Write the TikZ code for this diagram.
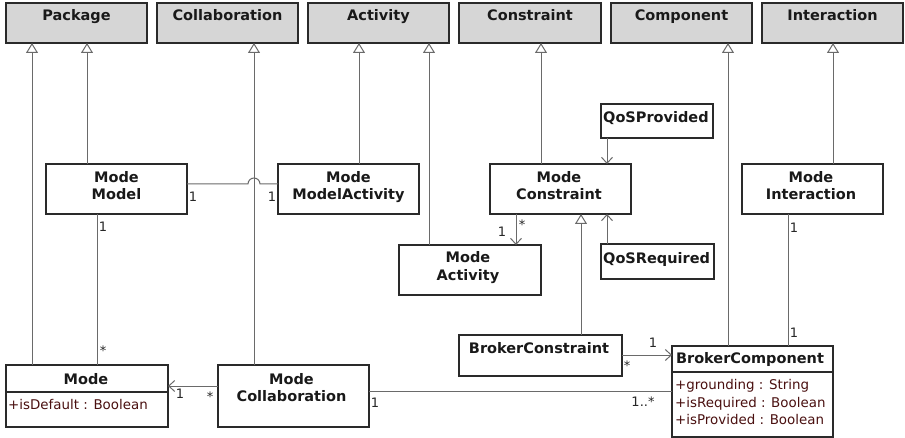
\documentclass[tikz,border=0pt]{standalone}
\usepackage{fontspec}
\setmainfont{DejaVu Sans}
\usetikzlibrary{arrows.meta}

\definecolor{linegray}{HTML}{6A6A6A}
\definecolor{framecol}{HTML}{2A2A2A}
\definecolor{pkgfill}{HTML}{D6D6D6}
\definecolor{attrcol}{HTML}{4A1010}

\tikzset{
  cls/.style={draw=framecol, line width=1.2pt, fill=white, inner sep=0pt, outer sep=0pt},
  ext/.style={cls, fill=pkgfill},
  ttl/.style={anchor=base, inner sep=0pt, font=\fontsize{14.5}{17}\selectfont\bfseries, text=black!90},
  ttlw/.style={ttl, anchor=base west},
  att/.style={anchor=base west, inner sep=0pt, text=attrcol, font=\fontsize{13.4}{16}\selectfont},
  mult/.style={anchor=center, inner sep=0pt, font=\fontsize{13}{15}\selectfont, text=black!85},
  gen/.style={draw=linegray, line width=1pt, -{Triangle[width=12pt, length=10pt, fill=white]}},
  nav/.style={draw=linegray, line width=1pt, -{Straight Barb[length=6pt, width=11pt]}},
  assoc/.style={draw=linegray, line width=1pt},
  sep/.style={draw=framecol, line width=1.2pt},
}

% class box from its corners (x1,y1)-(x2,y2), y growing downwards
\newcommand\klass[6]{\node[#6, minimum width={#4-#2}, minimum height={#5-#3}] (#1) at ({(#2+#4)/2},{(#3+#5)/2}) {};}

\begin{document}
\begin{tikzpicture}[x=1pt, y=-1pt]
\useasboundingbox (0,0) rectangle (905,438);

% external metaclasses
\klass{pkg}{6}{3}{147}{43}{ext}
\klass{col}{157}{3}{298}{43}{ext}
\klass{act}{308}{3}{449}{43}{ext}
\klass{con}{459}{3}{601}{43}{ext}
\klass{cmp}{611}{3}{752}{43}{ext}
\klass{int}{762}{3}{903}{43}{ext}
\node[ttl] (pkg-t) at (76.5,21) {Package};
\node[ttl] (col-t) at (227.5,21) {Collaboration};
\node[ttl] (act-t) at (378.5,21) {Activity};
\node[ttl] (con-t) at (530,21) {Constraint};
\node[ttl] (cmp-t) at (681.5,21) {Component};
\node[ttl] (int-t) at (832.5,21) {Interaction};

% mode classes
\klass{mm}{46}{164}{187}{214}{cls}
\klass{mma}{278}{164}{419}{214}{cls}
\klass{mc}{490}{164}{631}{214}{cls}
\klass{mi}{742}{164}{883}{214}{cls}
\klass{qp}{601}{104}{713}{138}{cls}
\klass{qr}{601}{244}{714}{279}{cls}
\klass{ma}{399}{245}{541}{295}{cls}
\klass{bcs}{459}{335}{622}{376}{cls}
\klass{bcp}{672}{346}{833}{437}{cls}
\klass{mode}{6}{365}{168}{427}{cls}
\klass{mcol}{218}{365}{369}{427}{cls}

\draw[sep] (mode.west |- 0,392) -- (mode.east |- 0,392);
\draw[sep] (bcp.west |- 0,372) -- (bcp.east |- 0,372);

\node[ttl] (mm-t1) at (116.5,182.5) {Mode};
\node[ttl] (mm-t2) at (116.5,199.5) {Model};
\node[ttl] (mma-t1) at (348.5,182.5) {Mode};
\node[ttl] (mma-t2) at (348.5,199.5) {ModelActivity};
\node[ttl] (mc-t1) at (559,182.5) {Mode};
\node[ttl] (mc-t2) at (559,199.5) {Constraint};
\node[ttl] (mi-t1) at (811,182.5) {Mode};
\node[ttl] (mi-t2) at (811,199.5) {Interaction};
\node[ttlw] (qp-t) at (603,122.5) {QoSProvided};
\node[ttlw] (qr-t) at (603,263.5) {QoSRequired};
\node[ttl] (ma-t1) at (468,262.5) {Mode};
\node[ttl] (ma-t2) at (468,280.5) {Activity};
\node[ttl] (bcs-t) at (539,353.5) {BrokerConstraint};
\node[ttl] (bcp-t) at (750,363.5) {BrokerComponent};
\node[att] (bcp-a1) at (675,389) {+grounding : String};
\node[att] (bcp-a2) at (675,407) {+isRequired : Boolean};
\node[att] (bcp-a3) at (675,424) {+isProvided : Boolean};
\node[ttl] (mode-t) at (86,384.5) {Mode};
\node[att] (mode-a1) at (8,409) {+isDefault : Boolean};
\node[ttl] (mcol-t1) at (291.5,384.5) {Mode};
\node[ttl] (mcol-t2) at (291.5,401.5) {Collaboration};

% generalizations
\draw[gen] (32,0 |- mode.north) -- (32,0 |- pkg.south);
\draw[gen] (87,0 |- mm.north) -- (87,0 |- pkg.south);
\draw[gen] (254,0 |- mcol.north) -- (254,0 |- col.south);
\draw[gen] (359,0 |- mma.north) -- (359,0 |- act.south);
\draw[gen] (429,0 |- ma.north) -- (429,0 |- act.south);
\draw[gen] (541,0 |- mc.north) -- (541,0 |- con.south);
\draw[gen] (581,0 |- bcs.north) -- (581,0 |- mc.south);
\draw[gen] (728,0 |- bcp.north) -- (728,0 |- cmp.south);
\draw[gen] (833,0 |- mi.north) -- (833,0 |- int.south);

% associations
\draw[assoc] (mm.east |- 0,184) -- (248,184)
  arc[start angle=180, end angle=360, radius=6] -- (mma.west |- 0,184);
\node[mult] (m1) at (193,197) {1};
\node[mult] (m2) at (272,197) {1};

\draw[assoc] (97,0 |- mm.south) -- (97,0 |- mode.north);
\node[mult] (m3) at (103,227) {1};
\node[mult] (m4) at (103,351) {*};

\draw[nav] (mcol.west |- 0,386) -- (mode.east |- 0,386);
\node[mult] (m5) at (180,394) {1};
\node[mult] (m6) at (210,397) {*};

\draw[assoc] (mcol.east |- 0,391) -- (bcp.west |- 0,391);
\node[mult] (m7) at (375,403) {1};
\node[mult] (m8) at (643,402) {1..*};

\draw[nav] (bcs.east |- 0,355) -- (bcp.west |- 0,355);
\node[mult] (m9) at (653,343) {1};
\node[mult] (m10) at (627,366) {*};

\draw[nav] (516,0 |- mc.south) -- (516,0 |- ma.north);
\node[mult] (m11) at (502,232) {1};
\node[mult] (m12) at (522,225) {*};

\draw[nav] (607,0 |- qp.south) -- (607,0 |- mc.north);
\draw[nav] (607,0 |- qr.north) -- (607,0 |- mc.south);

\draw[assoc] (788,0 |- mi.south) -- (788,0 |- bcp.north);
\node[mult] (m13) at (794,228) {1};
\node[mult] (m14) at (794,333) {1};
\end{tikzpicture}
\end{document}
